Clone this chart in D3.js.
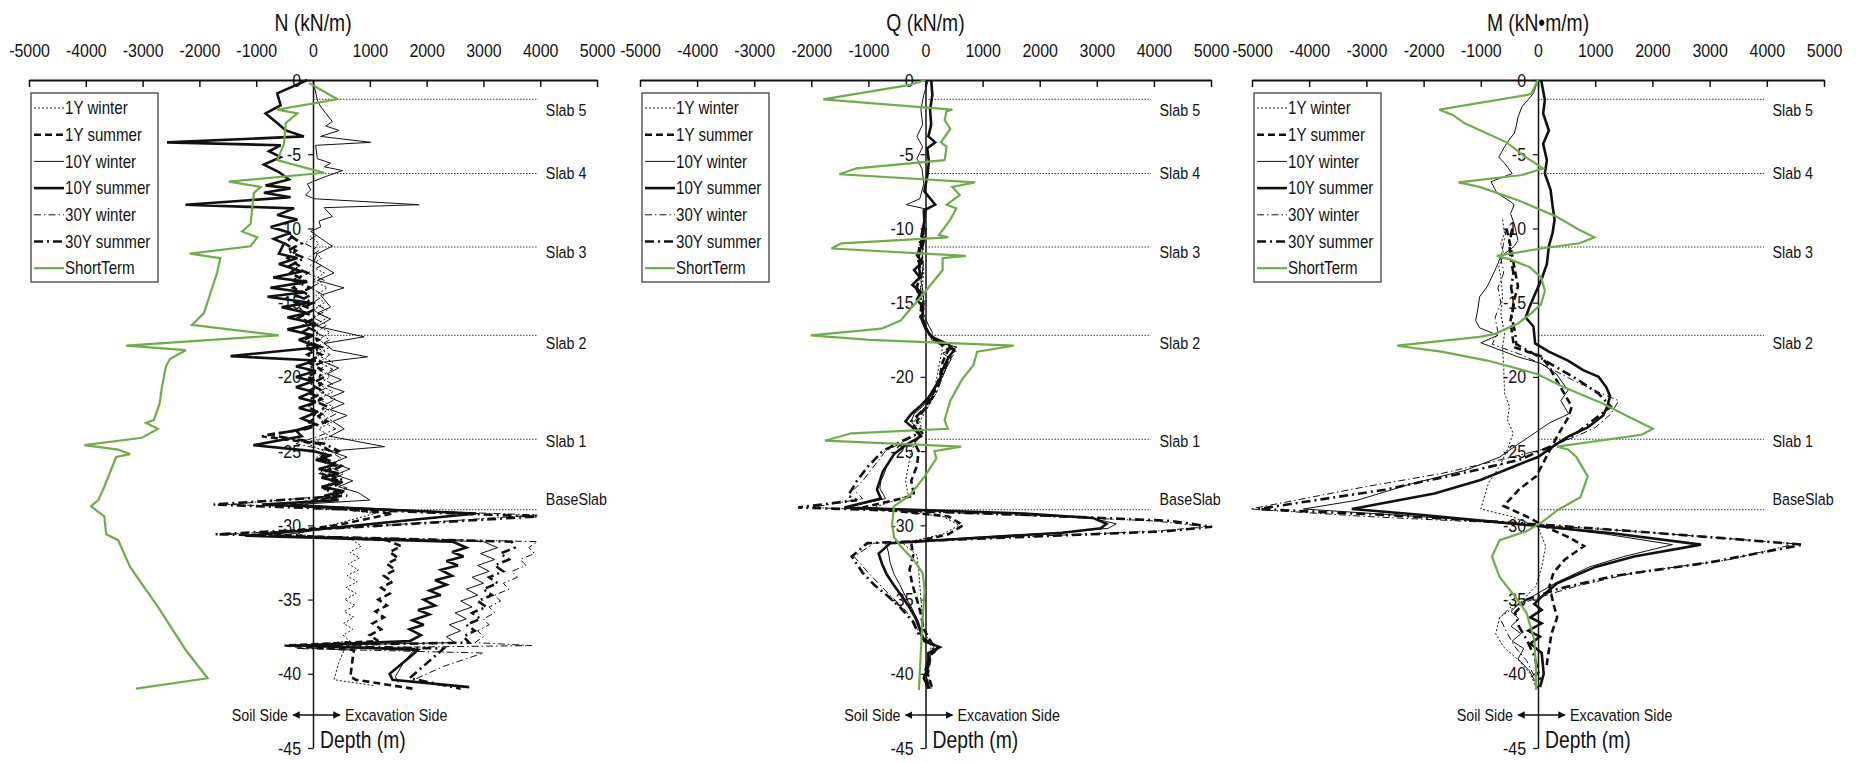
<!DOCTYPE html>
<html>
<head>
<meta charset="utf-8">
<script src="https://cdn.jsdelivr.net/npm/d3@7"></script>
<style>
  html, body { margin: 0; padding: 0; background: #fff; }
  svg { display: block; }
  /* narrow look of the original font */
  text.nw { transform-box: fill-box; transform-origin: center; transform: scaleX(0.84); }
  text.nw-s { transform-box: fill-box; transform-origin: left center; transform: scaleX(0.84); }
  text.nw-e { transform-box: fill-box; transform-origin: right center; transform: scaleX(0.84); }
</style>
</head>
<body>
<div id="chart"></div>
<script>
// Wall force profiles vs depth: N, Q, M for long-term seasons and short term.
// each point is [depth (m), value]

const seriesNames = ["1Y winter", "1Y summer", "10Y winter", "10Y summer", "30Y winter", "30Y summer", "ShortTerm"];
const xTicks = [-5000, -4000, -3000, -2000, -1000, 0, 1000, 2000, 3000, 4000, 5000];
const depthTicks = [0, -5, -10, -15, -20, -25, -30, -35, -40, -45];
const slabNames = ["Slab 5", "Slab 4", "Slab 3", "Slab 2", "Slab 1", "BaseSlab"];
const slabDepths = [-1.3, -6.3, -11.25, -17.2, -24.2, -28.95];
const slabLabelDepths = [-2.0, -6.3, -11.6, -17.7, -24.3, -28.2];
const slabLineEnd = 3950;
const slabLabelAt = 4100;

// ---- N (kN/m)
const nY1Winter = [[-10.5,-50],[-11,100],[-11.5,0],[-12,150],[-12.5,-50],[-13,200],[-13.5,0],[-14,250],[-14.5,50],[-15,200],[-15.5,0],[-16,250],[-16.5,50],[-17,300],[-17.5,100],[-18,300],[-18.5,50],[-19,350],[-19.5,100],[-20,300],[-20.5,100],[-21,350],[-21.5,100],[-22,350],[-22.5,150],[-23,350],[-23.5,100],[-24,300],[-24.5,-100],[-25,200],[-25.5,50],[-26,300],[-26.5,100],[-27,350],[-27.5,150],[-28,400],[-28.6,-150],[-29.2,1100],[-30,300],[-30.6,-300],[-31,700],[-31.4,850],[-31.8,650],[-32.2,820],[-32.6,620],[-33,800],[-33.4,600],[-33.8,780],[-34.2,580],[-34.6,760],[-35,560],[-35.4,740],[-35.8,550],[-36.2,720],[-36.6,540],[-37,700],[-37.4,530],[-37.8,650],[-38.1,-150],[-38.4,550],[-39.3,450],[-40.4,370],[-40.8,1075]];
const nY1Summer = [[-10.5,-350],[-11,-500],[-11.5,-300],[-12,-450],[-12.5,-250],[-13,-400],[-13.5,-150],[-14,-350],[-14.5,-50],[-15,-300],[-15.5,0],[-16,-250],[-16.5,50],[-17,-200],[-17.5,100],[-18,-150],[-18.5,150],[-19,-100],[-19.5,150],[-20,-100],[-20.5,150],[-21,-100],[-21.5,150],[-22,-100],[-22.5,150],[-23,-50],[-23.5,-150],[-24,-900],[-24.5,100],[-25,300],[-25.5,100],[-26,400],[-26.5,150],[-27,450],[-27.5,200],[-28,500],[-28.6,-400],[-29.2,1400],[-30,400],[-30.6,-800],[-31,1300],[-31.4,1550],[-31.8,1350],[-32.2,1500],[-32.6,1300],[-33,1450],[-33.4,1250],[-33.8,1400],[-34.2,1200],[-34.6,1350],[-35,1150],[-35.4,1300],[-35.8,1100],[-36.2,1250],[-36.6,1050],[-37,1200],[-37.4,1000],[-37.8,1150],[-38.1,-500],[-38.4,720],[-39.5,680],[-40.2,660],[-40.4,750],[-41,1750]];
const nY10Winter = [[0,0],[-1.35,76],[-1.8,135],[-2.8,340],[-3.1,225],[-3.4,460],[-3.8,135],[-4.2,1017],[-4.4,47],[-5.3,76],[-5.6,310],[-5.85,200],[-6.1,520],[-6.5,225],[-7,-100],[-7.4,-40],[-7.75,-130],[-8,18],[-8.4,1870],[-8.6,195],[-9.2,340],[-9.5,105],[-9.9,135],[-10.2,-40],[-10.7,150],[-11.2,340],[-11.7,76],[-12.2,18],[-13,370],[-13.5,76],[-14,547],[-14.5,135],[-15.3,310],[-15.7,76],[-16.1,310],[-16.6,76],[-17.3,900],[-17.75,195],[-18.2,350],[-18.65,960],[-19,200],[-19.4,450],[-19.8,250],[-20.2,500],[-20.6,250],[-21,550],[-21.4,300],[-21.8,550],[-22.2,300],[-22.6,600],[-23,350],[-23.5,550],[-24,300],[-24.7,1260],[-25,300],[-25.4,600],[-25.8,350],[-26.2,650],[-26.6,400],[-27,700],[-27.4,450],[-27.8,800],[-28.3,1000],[-28.6,-300],[-29.2,2900],[-30.3,100],[-30.7,-600],[-31.1,3000],[-31.5,3250],[-31.9,2950],[-32.3,3200],[-32.7,2900],[-33.1,3100],[-33.5,2800],[-33.9,3000],[-34.3,2700],[-34.7,2900],[-35.1,2600],[-35.5,2800],[-35.9,2500],[-36.3,2700],[-36.7,2400],[-37.1,2600],[-37.5,2350],[-37.9,2500],[-38.1,-100],[-38.3,1800],[-39.2,1600],[-40.2,1450],[-40.6,1500]];
const nY10Summer = [[0,-100],[-0.9,-630],[-1.7,-570],[-2.25,-835],[-2.9,-630],[-3.4,-480],[-3.8,-160],[-4.2,-2570],[-4.4,-570],[-4.8,-775],[-5.2,-570],[-5.7,-865],[-6.2,-600],[-6.7,-425],[-7.1,-835],[-7.3,-395],[-7.6,-865],[-7.9,-395],[-8.4,-2245],[-8.65,-335],[-9.1,-630],[-9.4,-275],[-9.9,-745],[-10.3,-395],[-10.7,-690],[-11,-510],[-11.7,-600],[-12,-275],[-12.4,-600],[-12.9,-200],[-13.3,-700],[-13.6,-100],[-14,-750],[-14.3,-150],[-14.6,-800],[-15,-50],[-15.3,-550],[-15.7,-100],[-16,-450],[-16.4,50],[-16.8,-450],[-17.2,0],[-17.5,-250],[-18,100],[-18.6,-1450],[-18.9,50],[-19.3,-300],[-19.6,50],[-20,-300],[-20.3,0],[-20.7,-300],[-21,0],[-21.4,-250],[-21.7,50],[-22.1,-250],[-22.4,50],[-22.8,-200],[-23.2,50],[-23.6,-300],[-24,-200],[-24.6,-1050],[-25,0],[-25.3,300],[-25.6,50],[-25.9,400],[-26.2,100],[-26.5,450],[-26.8,150],[-27.1,500],[-27.4,150],[-27.7,550],[-28,200],[-28.3,450],[-28.6,-900],[-29.2,2870],[-30.3,0],[-30.7,-1190],[-31.1,2450],[-31.5,2700],[-31.8,2450],[-32.1,2650],[-32.4,2350],[-32.7,2550],[-33,2250],[-33.4,2450],[-33.7,2150],[-34,2350],[-34.4,2050],[-34.7,2250],[-35,1950],[-35.4,2150],[-35.7,1850],[-36,2050],[-36.4,1750],[-36.7,1950],[-37,1700],[-37.4,1900],[-37.8,1700],[-38.1,-200],[-38.4,1850],[-39.2,1600],[-40,1350],[-40.4,1400],[-40.9,2750]];
const nY30Winter = [[-10.5,50],[-11,-150],[-11.5,100],[-12,-100],[-12.5,150],[-13,-100],[-13.5,200],[-14,-50],[-14.5,200],[-15,0],[-15.5,250],[-16,0],[-16.5,250],[-17,50],[-17.5,300],[-18,50],[-18.5,300],[-19,100],[-19.5,350],[-20,100],[-20.5,350],[-21,100],[-21.5,400],[-22,150],[-22.5,400],[-23,150],[-23.5,400],[-24,100],[-24.5,-300],[-25,300],[-25.5,500],[-26,250],[-26.5,550],[-27,300],[-27.5,600],[-28,350],[-28.6,-1500],[-29.3,3950],[-30.2,500],[-30.6,-1600],[-31.1,3950],[-31.5,3800],[-31.9,3900],[-32.3,3650],[-32.7,3750],[-33.1,3500],[-33.5,3600],[-33.9,3350],[-34.3,3450],[-34.7,3200],[-35.1,3300],[-35.5,3100],[-35.9,3200],[-36.3,3000],[-36.7,3100],[-37.1,2900],[-37.5,3000],[-37.9,2850],[-38.1,3850],[-38.3,-300],[-38.6,3000],[-39.5,2300],[-40.5,1720]];
const nY30Summer = [[-10.5,-400],[-11,-200],[-11.5,-450],[-12,-150],[-12.5,-400],[-13,-100],[-13.5,-350],[-14,-50],[-14.5,-300],[-15,0],[-15.5,-250],[-16,50],[-16.5,-200],[-17,100],[-17.5,-150],[-18,150],[-18.5,-100],[-19,150],[-19.5,-100],[-20,200],[-20.5,-50],[-21,200],[-21.5,-50],[-22,250],[-22.5,0],[-23,250],[-23.5,-100],[-23.9,-800],[-24.5,200],[-25,450],[-25.5,200],[-26,500],[-26.5,250],[-27,550],[-27.5,300],[-28,600],[-28.6,-1750],[-29.4,3950],[-30.2,400],[-30.6,-1715],[-31.1,3500],[-31.5,3550],[-31.9,3300],[-32.3,3450],[-32.7,3200],[-33.1,3350],[-33.5,3100],[-33.9,3250],[-34.3,3000],[-34.7,3150],[-35.1,2900],[-35.5,3050],[-35.9,2800],[-36.3,2950],[-36.7,2700],[-37.1,2850],[-37.5,2650],[-37.9,2750],[-38.1,-450],[-38.3,2300],[-39.3,2000],[-40.3,1700],[-41,2600]];
const nShortTerm = [[-0.2,-70],[-1.3,430],[-2,-630],[-2.25,-275],[-2.9,-480],[-4.3,-510],[-5.4,-630],[-6.25,195],[-6.85,-1480],[-7.2,-920],[-7.6,-1040],[-9.7,-1100],[-10.2,-1250],[-10.6,-980],[-11.2,-1100],[-11.7,-2170],[-12,-1630],[-13,-1690],[-15.7,-1920],[-16.5,-2130],[-17.2,-600],[-17.9,-3290],[-18.2,-2240],[-18.8,-2520],[-19.3,-2590],[-20.7,-2660],[-21.8,-2700],[-22.9,-2800],[-23.1,-2940],[-23.5,-2730],[-24.1,-3010],[-24.6,-4025],[-24.9,-3430],[-25.2,-3220],[-25.4,-3465],[-27.4,-3675],[-28.3,-3780],[-28.7,-3906],[-29,-3815],[-29.4,-3675],[-30.6,-3640],[-31,-3430],[-32.8,-3220],[-35.5,-2730],[-38.4,-2240],[-40.3,-1855],[-41,-3115]];

// ---- Q (kN/m)
const qY1Winter = [[-10,0],[-11,-30],[-12,-50],[-13,-30],[-14,-60],[-15,-20],[-16,-40],[-17,50],[-17.5,150],[-18,300],[-19,250],[-20,200],[-21,150],[-22,50],[-23,-100],[-23.8,-50],[-24.3,-150],[-25,-250],[-26,-300],[-27,-350],[-28,-300],[-28.8,-900],[-29.4,300],[-30,590],[-30.6,300],[-31.2,-400],[-32,-150],[-33,-120],[-34,-100],[-35,-80],[-36,-60],[-37,-30],[-38.2,100],[-39,50],[-40,40],[-41,100]];
const qY1Summer = [[-10,-30],[-11,-80],[-12,-120],[-13,-90],[-14,-150],[-15,-60],[-16,-80],[-17,30],[-17.6,200],[-18.2,400],[-19,300],[-20,250],[-21,150],[-22,0],[-23,-150],[-23.8,-60],[-24.4,-200],[-25,-120],[-26,-150],[-27,-250],[-28,-200],[-28.8,-1100],[-29.4,400],[-30,660],[-30.6,400],[-31.2,-250],[-32,-215],[-33,-280],[-34,-230],[-35,-150],[-36,-80],[-37,-30],[-38.2,150],[-39,80],[-40,40],[-41,120]];
const qY10Winter = [[0,50],[-1,-30],[-2,-80],[-3,-50],[-3.8,-150],[-4.5,-50],[-5.3,-150],[-6,-60],[-7,-30],[-8,-100],[-8.4,-335],[-8.7,20],[-9.5,-30],[-10.5,0],[-11.5,-60],[-12.5,-40],[-13.5,-80],[-14.5,-30],[-15.5,-60],[-16.5,50],[-17,120],[-17.5,100],[-18,550],[-18.4,300],[-18.8,450],[-19.5,350],[-20,300],[-20.5,200],[-21,150],[-21.5,50],[-22,-50],[-22.5,-200],[-23,-250],[-23.5,-150],[-24,-60],[-24.5,-300],[-25,-500],[-25.5,-600],[-26,-680],[-26.5,-720],[-27,-780],[-27.5,-800],[-28.2,-700],[-28.8,-1400],[-29.2,1500],[-29.5,2900],[-29.9,3340],[-30.2,3200],[-30.5,2300],[-30.8,900],[-31.2,-700],[-31.8,-650],[-32.5,-620],[-33.3,-550],[-34,-450],[-34.8,-350],[-35.5,-250],[-36.5,-120],[-37.5,-50],[-38.2,150],[-39,50],[-40,0],[-41,80]];
const qY10Summer = [[0,100],[-1,120],[-2,80],[-3,100],[-3.8,50],[-4.2,170],[-4.6,30],[-5.5,60],[-6.5,30],[-7.5,-20],[-8.4,170],[-8.8,-30],[-9.5,-20],[-10.3,-60],[-11,-40],[-11.8,-150],[-12.3,-60],[-12.8,-200],[-13.3,-100],[-13.8,-230],[-14.3,-80],[-14.8,-150],[-15.3,-40],[-16,-60],[-16.8,20],[-17.3,100],[-17.8,400],[-18.2,500],[-18.7,400],[-19.5,300],[-20.2,250],[-20.8,150],[-21.4,50],[-22,-100],[-22.5,-250],[-23,-350],[-23.5,-200],[-24,-80],[-24.6,-350],[-25.2,-550],[-25.8,-650],[-26.4,-750],[-27,-800],[-27.6,-850],[-28.2,-780],[-28.8,-1420],[-29.2,1730],[-29.5,2930],[-29.9,3170],[-30.2,3070],[-30.5,2400],[-30.8,1060],[-31.2,-615],[-31.9,-820],[-32.6,-760],[-33.3,-680],[-34,-560],[-34.7,-430],[-35.4,-300],[-36.2,-180],[-37,-100],[-37.8,-20],[-38.2,250],[-38.6,50],[-39.5,50],[-40.3,-30],[-41,60]];
const qY30Winter = [[-10,20],[-11,-40],[-12,-70],[-13,-50],[-14,-90],[-15,-40],[-16,-50],[-17,60],[-17.6,250],[-18.2,550],[-19,400],[-20,300],[-21,200],[-22,50],[-23,-200],[-23.8,-100],[-24.4,-400],[-25,-700],[-26,-900],[-27,-1100],[-27.6,-1255],[-28.2,-1100],[-28.8,-2000],[-29.3,1500],[-29.7,4000],[-30.1,4950],[-30.4,4000],[-30.8,1500],[-31.2,-900],[-32.1,-1250],[-33.2,-1000],[-34,-800],[-34.8,-600],[-35.5,-400],[-36.5,-200],[-37.5,-80],[-38.2,200],[-39,50],[-40,0],[-41,80]];
const qY30Summer = [[-10,-40],[-11,-100],[-12,-130],[-13,-100],[-14,-160],[-15,-70],[-16,-90],[-17,40],[-17.6,200],[-18.2,500],[-19,380],[-20,280],[-21,180],[-22,20],[-23,-250],[-23.8,-120],[-24.4,-450],[-25,-750],[-26,-1000],[-27,-1200],[-28,-1355],[-28.3,-1200],[-28.8,-2230],[-29.3,1800],[-29.7,4300],[-30.1,5020],[-30.4,4200],[-30.8,1600],[-31.2,-1020],[-32.1,-1290],[-33.2,-1100],[-34,-900],[-34.8,-650],[-35.5,-450],[-36.5,-220],[-37.5,-100],[-38.2,220],[-39,60],[-40,-20],[-41,50]];
const qShortTerm = [[0,0],[-0.35,-300],[-1.3,-1790],[-2,470],[-2.1,370],[-2.7,335],[-3.3,435],[-4.2,270],[-4.5,370],[-5.4,335],[-5.95,-1210],[-6.35,-1510],[-6.9,870],[-7.2,470],[-7.75,600],[-8.4,370],[-8.65,540],[-9.4,435],[-10.45,235],[-10.6,400],[-11,-1475],[-11.35,-1645],[-11.85,705],[-12,300],[-12.8,300],[-14.4,-35],[-16.2,-435],[-16.75,-770],[-17.2,-2010],[-17.5,-975],[-17.9,1545],[-18.3,905],[-19.2,840],[-20.2,635],[-21.6,435],[-22.9,335],[-23.5,390],[-23.8,-1300],[-24.3,-1760],[-24.7,625],[-25,155],[-25.5,190],[-26.7,-15],[-28,-280],[-28.7,-550],[-29.9,-585],[-30.8,-550],[-31.5,-415],[-32.3,-215],[-33.2,-50],[-34.4,-15],[-36.2,-50],[-38.4,-80],[-41.1,-115]];

// ---- M (kN·m/m)
const mY1Winter = [[-9.4,-620],[-10.3,-585],[-11,-650],[-11.7,-600],[-12.6,-685],[-13.5,-640],[-14.6,-620],[-15.7,-650],[-17.1,-585],[-18,-620],[-19.3,-600],[-21.1,-585],[-22,-500],[-22.9,-535],[-23.8,-435],[-24.9,-535],[-26,-670],[-27.2,-870],[-28.9,-1000],[-29.4,-470],[-30.1,0],[-31.4,135],[-32.8,65],[-34.1,-35],[-35.3,-335],[-36.2,-670],[-37.3,-740],[-38.2,-600],[-39.1,-335],[-40,-135],[-40.9,-35]];
const mY1Summer = [[-10,-550],[-11.2,-480],[-12.6,-415],[-13.9,-350],[-14.8,-415],[-16.2,-480],[-17.2,-450],[-18,-415],[-18.6,50],[-19.3,190],[-20.2,320],[-21.1,455],[-22,590],[-22.7,535],[-24,335],[-25.2,170],[-26,65],[-26.7,-35],[-27.6,-335],[-28.7,-600],[-29.4,-200],[-30.1,135],[-30.8,535],[-31.4,805],[-32.3,470],[-33.2,270],[-34.1,200],[-35.3,270],[-36.2,335],[-37.3,235],[-38.2,200],[-38.9,170],[-39.5,150]];
const mY10Winter = [[0,0],[-0.9,-80],[-1.8,-280],[-2.5,-350],[-3.1,-380],[-3.6,-415],[-3.9,-480],[-4.5,-585],[-5.2,-685],[-5.6,-585],[-6.3,-450],[-6.85,-820],[-7.6,-720],[-8.2,-480],[-8.4,-415],[-9,-480],[-9.7,-415],[-10.8,-350],[-11.2,-415],[-11.9,-650],[-12.8,-750],[-13.9,-885],[-14.6,-1020],[-15.5,-1055],[-16.2,-1090],[-16.7,-1020],[-17.2,-700],[-17.7,-1000],[-18.65,-350],[-19.1,55],[-19.8,320],[-20.9,525],[-21.6,400],[-22.5,535],[-23.1,200],[-23.8,-65],[-24.5,-335],[-25.4,-670],[-26.3,-1275],[-27.2,-2215],[-28.3,-3150],[-28.9,-4100],[-29.3,-2500],[-29.8,-600],[-30.05,0],[-30.6,1200],[-31.3,2350],[-32.1,1500],[-32.8,900],[-33.9,300],[-34.8,-100],[-35.3,-335],[-35.8,-470],[-36.3,-335],[-36.8,-470],[-37.3,-300],[-37.8,-450],[-38.3,-250],[-39,-350],[-39.8,-150],[-40.5,-50],[-41,0]];
const mY10Summer = [[0,55],[-1.35,120],[-2.25,90],[-3.4,190],[-4.3,90],[-5.4,155],[-6.3,120],[-7.4,220],[-8.5,255],[-9.4,290],[-10.3,255],[-11.2,190],[-12.4,155],[-13.5,55],[-14.4,-50],[-15.3,-150],[-16,-215],[-16.6,-80],[-17.75,-50],[-18.3,190],[-18.9,525],[-19.55,790],[-20,1060],[-20.7,1195],[-21.3,1260],[-22,1210],[-22.6,1140],[-23.4,870],[-24,535],[-24.5,335],[-25.4,0],[-25.9,-335],[-26.95,-1005],[-27.85,-1810],[-28.9,-3255],[-29.3,-2010],[-29.8,-670],[-30.05,0],[-30.55,1340],[-31.3,2850],[-32.1,1680],[-32.8,1005],[-33.9,335],[-34.8,65],[-35.3,-65],[-35.7,65],[-36.2,-135],[-36.6,65],[-37.1,-170],[-37.5,35],[-37.97,-135],[-38.6,65],[-40,100],[-40.9,35]];
const mY30Winter = [[-10,-550],[-11,-600],[-12,-650],[-13,-600],[-14,-700],[-15,-650],[-16,-750],[-17,-700],[-17.8,-800],[-18.5,-300],[-19.3,150],[-20.2,600],[-21.1,1100],[-21.6,1410],[-22.5,1275],[-23.4,1005],[-24,670],[-24.9,65],[-25.6,-670],[-26.5,-1675],[-27.4,-3020],[-28.9,-5030],[-29.4,-3020],[-29.9,-335],[-30.4,1675],[-31,3690],[-31.25,4500],[-32.3,3355],[-33.2,1675],[-34.1,670],[-34.8,65],[-35.5,-470],[-36.2,-670],[-37.3,-535],[-38.2,-400],[-39.1,-200],[-40.4,-35]];
const mY30Summer = [[-10,-450],[-11,-500],[-12,-480],[-13,-430],[-14,-470],[-15,-420],[-16,-460],[-17,-400],[-17.8,-380],[-18.5,-50],[-19.3,300],[-20.2,700],[-21.1,1050],[-22,1275],[-22.8,1005],[-23.8,670],[-24.5,335],[-25.6,-335],[-26.5,-1340],[-27.6,-2680],[-28.9,-4900],[-29.3,-2680],[-29.85,-335],[-30.4,1675],[-30.9,3355],[-31.3,4630],[-32.5,3000],[-33.4,1340],[-34.3,335],[-35,-200],[-35.9,-400],[-36.8,-335],[-37.7,-200],[-38.8,-65],[-40.4,35]];
const mShortTerm = [[0,0],[-0.9,-115],[-1,-180],[-2,-1725],[-2.35,-1490],[-2.9,-1290],[-4.2,-550],[-5.2,-215],[-5.95,90],[-6.4,-280],[-6.9,-1390],[-7.2,-1020],[-8.1,-350],[-9.2,320],[-10.1,725],[-10.6,990],[-11,725],[-11.35,55],[-11.85,-720],[-12.1,-480],[-12.6,-150],[-13.3,55],[-14.2,120],[-15.1,55],[-15.7,-115],[-16.4,-350],[-17.1,-750],[-17.3,-1020],[-17.9,-2460],[-18.3,-1690],[-18.9,-885],[-19.8,-15],[-20.7,455],[-21.8,1130],[-22.6,1540],[-23.5,2010],[-23.9,1810],[-24.7,335],[-24.9,535],[-25.4,670],[-26.7,870],[-28.1,740],[-29,335],[-29.8,65],[-30.4,-200],[-31,-670],[-32.1,-805],[-33.5,-670],[-34.8,-400],[-35.9,-200],[-37.7,-65],[-39.5,-35],[-41.1,-35]];

// styles (legend order)
const seriesStyle = [
  { color: '#111', width: 1,   dash: '2,2' },
  { color: '#111', width: 2.6, dash: '7,4' },
  { color: '#111', width: 1,   dash: null },
  { color: '#111', width: 2.6, dash: null },
  { color: '#111', width: 1,   dash: '7,3,1.5,3' },
  { color: '#111', width: 2.6, dash: '9,4,2,4' },
  { color: '#70AD47', width: 2.2, dash: null }
];

const panels = [
  { title: 'N (kN/m)', range: [29, 597], series: [nY1Winter, nY1Summer, nY10Winter, nY10Summer, nY30Winter, nY30Summer, nShortTerm] },
  { title: 'Q (kN/m)', range: [640, 1211], series: [qY1Winter, qY1Summer, qY10Winter, qY10Summer, qY30Winter, qY30Summer, qShortTerm] },
  { title: 'M (kN\u2022m/m)', range: [1252, 1824], series: [mY1Winter, mY1Summer, mY10Winter, mY10Summer, mY30Winter, mY30Summer, mShortTerm] }
];

const W = 1856, H = 763;
const FONT = '"Liberation Sans", Arial, sans-serif';
const axisY = 80;
const plain = d => String(d);

const svg = d3.select('#chart').append('svg')
  .attr('width', W).attr('height', H)
  .style('font-family', FONT);

const y = d3.scaleLinear().domain([0, -45]).range([axisY, 748]);

// arrow head marker
svg.append('defs').append('marker')
  .attr('id', 'arr')
  .attr('viewBox', '0 0 10 10')
  .attr('refX', 9).attr('refY', 5)
  .attr('markerWidth', 5).attr('markerHeight', 5)
  .attr('orient', 'auto-start-reverse')
  .append('path').attr('d', 'M0,0 L10,5 L0,10 Z').attr('fill', '#111');

panels.forEach(p => {
  const x = d3.scaleLinear().domain([-5000, 5000]).range(p.range);
  const x0 = x(0);
  const g = svg.append('g');

  // title
  g.append('text')
    .attr('class', 'nw')
    .attr('x', x0).attr('y', 31)
    .attr('text-anchor', 'middle')
    .style('font-size', '23px').attr('fill', '#111')
    .text(p.title);

  // top value axis
  const xAxis = d3.axisTop(x).tickValues(xTicks).tickSizeInner(-7).tickSizeOuter(0).tickPadding(23)
    .tickFormat(plain);
  const ax = g.append('g').attr('transform', `translate(0,${axisY})`).call(xAxis);
  ax.select('.domain').attr('stroke', '#111').attr('stroke-width', 2.2);
  ax.selectAll('.tick line').attr('stroke', '#111').attr('stroke-width', 1.5);
  ax.selectAll('.tick text').attr('class', 'nw')
    .style('font-size', '19px').style('font-family', FONT).attr('fill', '#111');

  // slab reference lines
  slabNames.forEach((s, i) => {
    g.append('line')
      .attr('x1', x0).attr('x2', x(slabLineEnd))
      .attr('y1', y(slabDepths[i])).attr('y2', y(slabDepths[i]))
      .attr('stroke', '#333').attr('stroke-width', 1).attr('stroke-dasharray', '1.5,1.5');
    g.append('text')
      .attr('class', 'nw-s')
      .attr('x', x(slabLabelAt)).attr('y', y(slabLabelDepths[i]))
      .attr('dy', '0.35em')
      .style('font-size', '17px').attr('fill', '#111')
      .text(s);
  });

  // depth axis at zero
  const yAxis = d3.axisLeft(y).tickValues(depthTicks).tickSizeInner(5).tickSizeOuter(0).tickPadding(7)
    .tickFormat(plain);
  const ay = g.append('g').attr('transform', `translate(${x0},0)`).call(yAxis);
  ay.select('.domain').attr('stroke', '#111').attr('stroke-width', 1.5);
  ay.selectAll('.tick line').attr('stroke', '#111').attr('stroke-width', 1.2);
  ay.selectAll('.tick text').attr('class', 'nw-e')
    .style('font-size', '19px').style('font-family', FONT).attr('fill', '#111');

  // series lines
  const line = d3.line().x(d => x(d[1])).y(d => y(d[0]));
  p.series.forEach((data, i) => {
    const st = seriesStyle[i];
    g.append('path')
      .datum(data)
      .attr('d', line)
      .attr('fill', 'none')
      .attr('stroke', st.color)
      .attr('stroke-width', st.width)
      .attr('stroke-dasharray', st.dash)
      .attr('stroke-linejoin', 'miter')
      .attr('stroke-miterlimit', 3);
  });

  // legend
  const lx = p.range[0] + 2, ly = 93;
  const leg = g.append('g').attr('transform', `translate(${lx},${ly})`);
  leg.append('rect').attr('width', 127).attr('height', 189)
    .attr('fill', '#fff').attr('stroke', '#333').attr('stroke-width', 1.2);
  seriesNames.forEach((name, i) => {
    const st = seriesStyle[i];
    const ry = 15 + i * 26.7;
    leg.append('line')
      .attr('x1', 3).attr('x2', 33).attr('y1', ry).attr('y2', ry)
      .attr('stroke', st.color).attr('stroke-width', st.width)
      .attr('stroke-dasharray', st.dash);
    leg.append('text')
      .attr('class', 'nw-s')
      .attr('x', 34).attr('y', ry).attr('dy', '0.35em')
      .style('font-size', '18px').attr('fill', '#111')
      .text(name);
  });

  // side annotation
  const ann = 715;
  g.append('line')
    .attr('x1', x0 - 10).attr('x2', x0 - 20).attr('y1', ann).attr('y2', ann)
    .attr('stroke', '#111').attr('stroke-width', 1.5).attr('marker-end', 'url(#arr)');
  g.append('line')
    .attr('x1', x0 - 10).attr('x2', x0 + 27).attr('y1', ann).attr('y2', ann)
    .attr('stroke', '#111').attr('stroke-width', 1.5).attr('marker-end', 'url(#arr)');
  g.append('text')
    .attr('class', 'nw-e')
    .attr('x', x0 - 25).attr('y', ann).attr('dy', '0.35em')
    .attr('text-anchor', 'end')
    .style('font-size', '17px').attr('fill', '#111')
    .text('Soil Side');
  g.append('text')
    .attr('class', 'nw-s')
    .attr('x', x0 + 32).attr('y', ann).attr('dy', '0.35em')
    .style('font-size', '17px').attr('fill', '#111')
    .text('Excavation Side');
  g.append('text')
    .attr('class', 'nw-s')
    .attr('x', x0 + 7).attr('y', 748)
    .style('font-size', '23px').attr('fill', '#111')
    .text('Depth (m)');
});
</script>
</body>
</html>
